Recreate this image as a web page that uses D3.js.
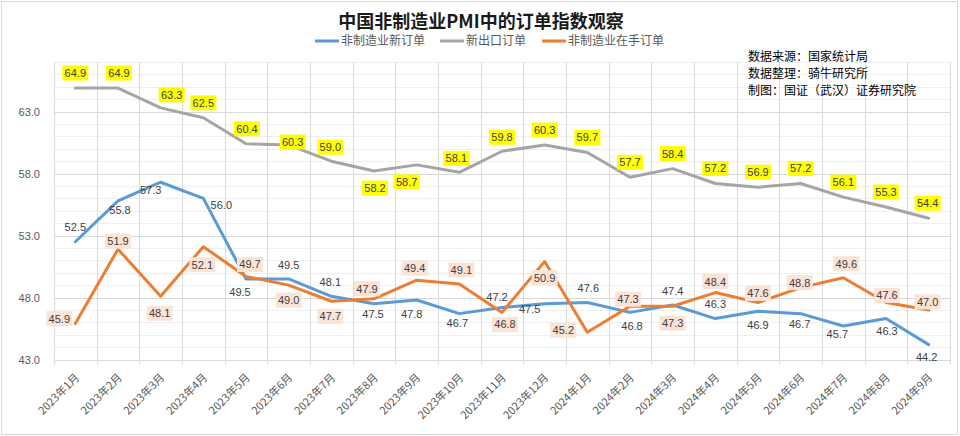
<!DOCTYPE html>
<html><head><meta charset="utf-8">
<script src="https://cdn.jsdelivr.net/npm/d3@7"></script>
<style>
html,body{margin:0;padding:0;background:#fff;}
svg{display:block;font-family:"Liberation Sans",Arial,sans-serif;}
.cjk{font-family:"Noto Sans CJK SC","Microsoft YaHei",sans-serif;}
</style></head>
<body><svg id="c" width="960" height="436"></svg>
<script>
// ---- data ----
const months = ["2023年1月","2023年2月","2023年3月","2023年4月","2023年5月","2023年6月","2023年7月","2023年8月","2023年9月","2023年10月","2023年11月","2023年12月","2024年1月","2024年2月","2024年3月","2024年4月","2024年5月","2024年6月","2024年7月","2024年8月","2024年9月"];
const newOrders = [52.5,55.8,57.3,56.0,49.5,49.5,48.1,47.5,47.8,46.7,47.2,47.5,47.6,46.8,47.4,46.3,46.9,46.7,45.7,46.3,44.2];
const exportOrders = [64.9,64.9,63.3,62.5,60.4,60.3,59.0,58.2,58.7,58.1,59.8,60.3,59.7,57.7,58.4,57.2,56.9,57.2,56.1,55.3,54.4];
const backlogOrders = [45.9,51.9,48.1,52.1,49.7,49.0,47.7,47.9,49.4,49.1,46.8,50.9,45.2,47.3,47.3,48.4,47.6,48.8,49.6,47.6,47.0];
const yTicks = [43,48,53,58,63];
const seriesNames = ["非制造业新订单","新出口订单","非制造业在手订单"];
const title = "中国非制造业PMI中的订单指数观察";
const notes = ["数据来源：国家统计局","数据整理：骑牛研究所","制图：国证（武汉）证券研究院"];

// ---- label placement (offset of label centre from point) ----
const newLabelOff = [[0,-15],[2,9],[-10,8],[18,7],[-6,13],[0,-14],[-1,-14],[-1,10],[-5,14],[-2,9],[-5,-10],[-15,5],[1,-14],[2,14],[0,-14],[0,-15],[0,14],[-1,10],[-6,8],[1,12],[-2,12]];
const expLabelOff = [[0,-15],[1,-15],[11,-13],[0,-15],[1,-15],[4,-3],[-1,-14],[1,17],[-10,17],[-3,-14],[0,-14],[0,-15],[0,-15],[0,-15],[0,-15],[0,-15],[0,-15],[0,-15],[0,-15],[0,-15],[-1,-15]];
const backLabelOff = [[-16,-5],[0,-8],[-1,17],[-1,18],[4,-12],[0,15],[-1,15],[-7,-10],[-2,-12],[2,-14],[3,12],[0,16],[-24,-2],[-2,-7],[0,17],[0,-11],[0,-9],[-1,-5],[3,-14],[1,-7],[-1,-8]];

const svg = d3.select("#c");
const W = 960, H = 436;
const m = {left:54, right:10, top:62, bottom:76.5};
const x = d3.scaleBand().domain(months).range([m.left, W - m.right]).padding(0);
const y = d3.scaleLinear().domain([43,67]).range([H - m.bottom, m.top]);
const cx = d => x(d) + x.bandwidth()/2;

// chart border
svg.append("rect").attr("x",1.5).attr("y",1.5).attr("width",W-4).attr("height",H-3)
  .attr("fill","#fff").attr("stroke","#d9d9d9").attr("stroke-width",1);

// minor horizontal grid
const g = svg.append("g");
g.selectAll("line.minor").data(d3.range(44,68)).join("line")
  .attr("x1",m.left).attr("x2",W-m.right)
  .attr("y1",d=>Math.round(y(d))+0.5).attr("y2",d=>Math.round(y(d))+0.5)
  .attr("stroke","#efefef").attr("stroke-width",1);
// major horizontal grid
g.selectAll("line.major").data(yTicks).join("line")
  .attr("x1",m.left).attr("x2",W-m.right)
  .attr("y1",d=>Math.round(y(d))+0.5).attr("y2",d=>Math.round(y(d))+0.5)
  .attr("stroke","#d9d9d9").attr("stroke-width",1);
// vertical grid at category boundaries
const bounds = months.map(d=>x(d)).concat([W-m.right]);
g.selectAll("line.v").data(bounds).join("line")
  .attr("x1",d=>Math.round(d)+0.5).attr("x2",d=>Math.round(d)+0.5)
  .attr("y1",m.top).attr("y2",H-m.bottom+5)
  .attr("stroke","#d9d9d9").attr("stroke-width",1);

// y axis labels
const yAxis = d3.axisLeft(y).tickValues(yTicks).tickFormat(d3.format(".1f")).tickSize(0).tickPadding(14);
const ya = svg.append("g").attr("transform",`translate(${m.left},0)`).call(yAxis);
ya.select(".domain").remove();
ya.selectAll("text").attr("fill","#595959").attr("font-size",11).attr("font-family","'Liberation Sans',Arial,sans-serif");

// x axis labels
const xAxis = d3.axisBottom(x).tickSize(0).tickPadding(0);
const xa = svg.append("g").attr("transform",`translate(0,${H-m.bottom})`).call(xAxis);
xa.select(".domain").remove();
xa.selectAll("text")
  .attr("class","cjk")
  .attr("fill","#595959").attr("font-size",11)
  .attr("text-anchor","end")
  .attr("dy","0.35em")
  .attr("transform","translate(2,16) rotate(-45)");

// lines
const colors = ["#5b9bd5","#a5a5a5","#ed7d31"];
const allSeries = [newOrders, exportOrders, backlogOrders];
const line = d3.line().x((d,i)=>cx(months[i])).y(d=>y(d));
allSeries.forEach((s,k)=>{
  svg.append("path").datum(s).attr("d",line).attr("fill","none")
    .attr("stroke",colors[k]).attr("stroke-width",3).attr("stroke-linejoin","round").attr("stroke-linecap","round");
});

// labels
function labels(s, offs, bg){
  const lg = svg.append("g");
  s.forEach((v,i)=>{
    const px = cx(months[i]) + offs[i][0], py = y(v) + offs[i][1];
    if (bg) lg.append("rect").attr("x",px-13).attr("y",py-7.5).attr("width",26).attr("height",15).attr("fill",bg);
    lg.append("text").attr("x",px).attr("y",py).attr("dy","0.36em").attr("text-anchor","middle")
      .attr("font-size",11).attr("fill","#404040").text(d3.format(".1f")(v));
  });
}
labels(newOrders, newLabelOff, null);
labels(exportOrders, expLabelOff, "#ffff00");
labels(backlogOrders, backLabelOff, "#fbe3d6");

// title
svg.append("text").attr("class","cjk").attr("x",481).attr("y",28).attr("text-anchor","middle")
  .attr("font-size",18).attr("font-weight","bold").attr("fill","#1a1a1a").text(title);

// legend
const legX = [315, 440, 542];
seriesNames.forEach((n,k)=>{
  const lg = svg.append("g").attr("transform",`translate(${legX[k]},41)`);
  lg.append("line").attr("x1",0).attr("x2",24).attr("y1",0).attr("y2",0).attr("stroke",colors[k]).attr("stroke-width",3);
  lg.append("text").attr("class","cjk").attr("x",26).attr("y",0).attr("dy","0.35em").attr("font-size",12).attr("fill","#595959").text(n);
});

// notes
notes.forEach((t,i)=>{
  svg.append("text").attr("class","cjk").attr("x",748).attr("y",57+i*17).attr("dy","0.35em")
    .attr("font-size",12).attr("fill","#000").text(t);
});
</script>
</body></html>
